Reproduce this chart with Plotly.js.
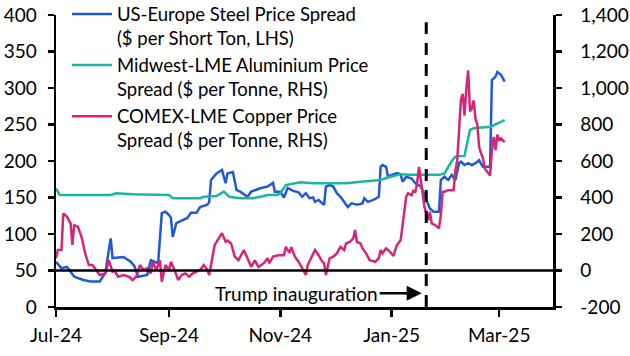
<!DOCTYPE html>
<html>
<head>
<meta charset="utf-8">
<script src="https://cdn.plot.ly/plotly-3.0.1.min.js"></script>
<style>html,body{margin:0;padding:0;background:#fff;}#chart{width:630px;height:356px;}</style>
</head>
<body>
<div id="chart"></div>
<script>
// US-Europe steel price spread ($ per short ton, LHS)
const steelDates = ["2024-07-01","2024-07-04","2024-07-07","2024-07-11","2024-07-16","2024-07-20","2024-07-25","2024-07-28","2024-07-31","2024-08-01","2024-08-07","2024-08-11","2024-08-13","2024-08-15","2024-08-20","2024-08-22","2024-08-26","2024-08-28","2024-08-30","2024-09-01","2024-09-02","2024-09-03","2024-09-05","2024-09-08","2024-09-11","2024-09-13","2024-09-16","2024-09-18","2024-09-22","2024-09-23","2024-09-24","2024-09-27","2024-09-30","2024-10-02","2024-10-03","2024-10-06","2024-10-08","2024-10-10","2024-10-13","2024-10-14","2024-10-16","2024-10-21","2024-10-25","2024-10-28","2024-10-29","2024-11-01","2024-11-03","2024-11-05","2024-11-08","2024-11-11","2024-11-13","2024-11-15","2024-11-17","2024-11-19","2024-11-20","2024-11-22","2024-11-24","2024-11-25","2024-11-26","2024-11-28","2024-11-30","2024-12-02","2024-12-04","2024-12-06","2024-12-08","2024-12-10","2024-12-13","2024-12-16","2024-12-17","2024-12-19","2024-12-22","2024-12-25","2024-12-26","2024-12-27","2024-12-29","2024-12-30","2025-01-01","2025-01-04","2025-01-06","2025-01-07","2025-01-09","2025-01-12","2025-01-14","2025-01-17","2025-01-18","2025-01-20","2025-01-22","2025-01-24","2025-01-27","2025-01-28","2025-01-30","2025-02-01","2025-02-03","2025-02-05","2025-02-07","2025-02-08","2025-02-10","2025-02-12","2025-02-14","2025-02-16","2025-02-18","2025-02-20","2025-02-24","2025-02-25","2025-02-27","2025-02-28","2025-03-02","2025-03-04"];
const steelValues = [62,53,55,41.5,37,35,35,46.5,94,67,68.5,62,56,41.5,44,64,60,128.7,130.5,126,122,96,115,119,122,129,129,137,140,144,174,183,187.7,169.5,183,185,160,158,153,151,158,162.6,165,170,158,158,150,163,159,157,151,156,149,150,144,146.6,142,140,165,167,165,156,151,144,137,142,140,142,149,144,146.6,151,192,194.5,192,178.5,181,183.5,182,171.6,178.5,176,169.5,165,160,146.6,135,130.5,130.5,174,178.5,174,181,174,197,199,194.5,197,194.5,197,201,192,192,311,315.6,322,318,308.6];

// Midwest-LME aluminium price spread ($ per tonne, RHS)
const aluDates = ["2024-07-01","2024-07-03","2024-07-31","2024-08-03","2024-08-12","2024-08-22","2024-09-01","2024-09-03","2024-09-18","2024-09-20","2024-09-27","2024-10-01","2024-10-04","2024-10-10","2024-10-17","2024-10-21","2024-10-25","2024-10-30","2024-11-01","2024-11-04","2024-11-08","2024-11-12","2024-11-19","2024-12-07","2024-12-15","2024-12-26","2024-12-31","2025-01-06","2025-01-11","2025-01-27","2025-01-30","2025-02-03","2025-02-05","2025-02-10","2025-02-11","2025-02-13","2025-02-15","2025-02-20","2025-02-24","2025-02-26","2025-02-28","2025-03-02","2025-03-04"];
const aluValues = [450,414,414,423,418,414,414,396,396,404,408,432,404,396,396,404,414,414,423,468,478,484,478,478,486,496,512,528,524,524,532,600,624,628,680,770,779,784,788,796,804,812,824];

// COMEX-LME copper price spread ($ per tonne, RHS)
const copperDates = ["2024-07-01","2024-07-02","2024-07-04","2024-07-05","2024-07-07","2024-07-09","2024-07-10","2024-07-11","2024-07-13","2024-07-15","2024-07-17","2024-07-19","2024-07-21","2024-07-23","2024-07-25","2024-07-28","2024-07-30","2024-08-01","2024-08-02","2024-08-04","2024-08-07","2024-08-10","2024-08-12","2024-08-14","2024-08-16","2024-08-18","2024-08-20","2024-08-22","2024-08-23","2024-08-25","2024-08-27","2024-08-28","2024-08-30","2024-09-01","2024-09-02","2024-09-04","2024-09-06","2024-09-08","2024-09-10","2024-09-12","2024-09-14","2024-09-18","2024-09-20","2024-09-22","2024-09-23","2024-09-26","2024-09-28","2024-09-30","2024-10-02","2024-10-03","2024-10-05","2024-10-07","2024-10-09","2024-10-12","2024-10-14","2024-10-16","2024-10-18","2024-10-20","2024-10-23","2024-10-25","2024-10-26","2024-10-28","2024-10-31","2024-11-03","2024-11-04","2024-11-06","2024-11-07","2024-11-09","2024-11-11","2024-11-13","2024-11-15","2024-11-16","2024-11-18","2024-11-20","2024-11-22","2024-11-24","2024-11-25","2024-11-26","2024-11-28","2024-11-30","2024-12-02","2024-12-04","2024-12-06","2024-12-07","2024-12-09","2024-12-11","2024-12-12","2024-12-13","2024-12-15","2024-12-16","2024-12-18","2024-12-20","2024-12-23","2024-12-25","2024-12-26","2024-12-27","2024-12-29","2024-12-31","2025-01-02","2025-01-04","2025-01-06","2025-01-07","2025-01-09","2025-01-10","2025-01-12","2025-01-13","2025-01-14","2025-01-15","2025-01-16","2025-01-17","2025-01-18","2025-01-19","2025-01-21","2025-01-22","2025-01-23","2025-01-25","2025-01-27","2025-01-28","2025-01-29","2025-01-30","2025-02-01","2025-02-04","2025-02-05","2025-02-06","2025-02-07","2025-02-08","2025-02-09","2025-02-10","2025-02-11","2025-02-12","2025-02-13","2025-02-14","2025-02-15","2025-02-16","2025-02-17","2025-02-18","2025-02-19","2025-02-20","2025-02-21","2025-02-23","2025-02-24","2025-02-25","2025-02-26","2025-02-27","2025-02-28","2025-03-01","2025-03-02","2025-03-04"];
const copperValues = [67,112,112,312,295,258,140,248,240,184,94,30,30,3,-25,-16,56,-6,0,-34,-25,-34,-52,-34,30,3,12,-16,48,3,56,-61,30,3,48,3,-52,-24,-16,-34,-16,3,30,3,-25,140,176,204,158,164,148,76,56,112,67,20,56,20,40,67,40,76,84,84,130,96,128,76,48,12,-24,30,67,112,84,48,40,-25,67,76,94,130,112,148,156,176,222,156,148,122,94,56,48,67,112,94,122,104,80,140,167,258,404,423,412,440,428,478,568,496,423,350,276,322,258,248,231,304,432,432,440,440,548,604,768,936,968,848,1000,1096,872,888,932,832,800,676,644,620,560,532,520,660,732,660,744,716,724,704];

const xTickVals = ["2024-07-01","2024-09-01","2024-11-01","2025-01-01","2025-03-01"];
const xTickText = ["Jul-24","Sep-24","Nov-24","Jan-25","Mar-25"];
const leftTickVals = [0,50,100,150,200,250,300,350,400];
const rightTickVals = [-200,0,200,400,600,800,1000,1200,1400];
const rightTickText = ["-200","0","200","400","600","800","1,000","1,200","1,400"];
const inaugurationDate = "2025-01-20";

const FONT = "Lato, 'Open Sans', sans-serif";
const FS = 19;

const traces = [
  {x: steelDates, y: steelValues, name: "US-Europe Steel Price Spread<br>($ per Short Ton, LHS)", type: "scatter", mode: "lines",
   line: {color: "#2159d4", width: 2.5}, yaxis: "y"},
  {x: aluDates, y: aluValues, name: "Midwest-LME Aluminium Price<br>Spread ($ per Tonne, RHS)", type: "scatter", mode: "lines",
   line: {color: "#18b8a0", width: 2.5}, yaxis: "y2"},
  {x: copperDates, y: copperValues, name: "COMEX-LME Copper Price<br>Spread ($ per Tonne, RHS)", type: "scatter", mode: "lines",
   line: {color: "#d6247b", width: 2.5}, yaxis: "y2"}
];

const layout = {
  width: 630, height: 356,
  margin: {l: 56, r: 77, t: 15, b: 49, autoexpand: false},
  paper_bgcolor: "#fff", plot_bgcolor: "#fff",
  font: {family: FONT, size: FS, color: "#000"},
  showlegend: true,
  legend: {x: 0.022, y: 1.067, xanchor: "left", yanchor: "top", bgcolor: "rgba(0,0,0,0)",
           font: {family: FONT, size: 18.5, color: "#000"}, valign: "top", itemwidth: 40},
  xaxis: {type: "date", range: ["2024-07-01", "2025-03-30 12:00"], tickvals: xTickVals, ticktext: xTickText,
          showgrid: false, zeroline: false, showline: true, linecolor: "#000", linewidth: 2.5,
          ticks: "outside", ticklen: 7, tickwidth: 2.5, tickcolor: "#000", ticklabelstandoff: 3, tickfont: {size: FS}},
  yaxis: {range: [0, 400], tickvals: leftTickVals, showgrid: false, zeroline: false, showline: true,
          linecolor: "#000", linewidth: 2.5, ticks: "outside", ticklen: 6, tickwidth: 2.5, tickcolor: "#000",
          ticklabelstandoff: 7, tickfont: {size: FS}},
  yaxis2: {range: [-200, 1400], tickvals: rightTickVals, ticktext: rightTickText, overlaying: "y", side: "right",
           showgrid: false, zeroline: false, showline: true, linecolor: "#000", linewidth: 2.5, ticks: "outside",
           ticklen: 6, tickwidth: 2.5, tickcolor: "#000", ticklabelstandoff: 15, tickfont: {size: FS}},
  shapes: [
    {type: "line", xref: "paper", x0: 0, x1: 1, yref: "y2", y0: 0, y1: 0, line: {color: "#000", width: 2.5}, layer: "above"},
    {type: "line", xref: "x", x0: inaugurationDate, x1: inaugurationDate, yref: "y", y0: 0, y1: 390,
     line: {color: "#000", width: 3, dash: "12px,9px"}, layer: "above"}
  ],
  annotations: [
    {x: "2025-01-17 12:00", y: 19, xref: "x", yref: "y", text: "Trump inauguration", showarrow: true,
     ax: -125, ay: 0, arrowhead: 2, arrowsize: 1.2, arrowwidth: 2.5, arrowcolor: "#000",
     font: {family: FONT, size: FS, color: "#000"}}
  ]
};

Plotly.newPlot("chart", traces, layout, {displayModeBar: false, staticPlot: true});
</script>
</body>
</html>
